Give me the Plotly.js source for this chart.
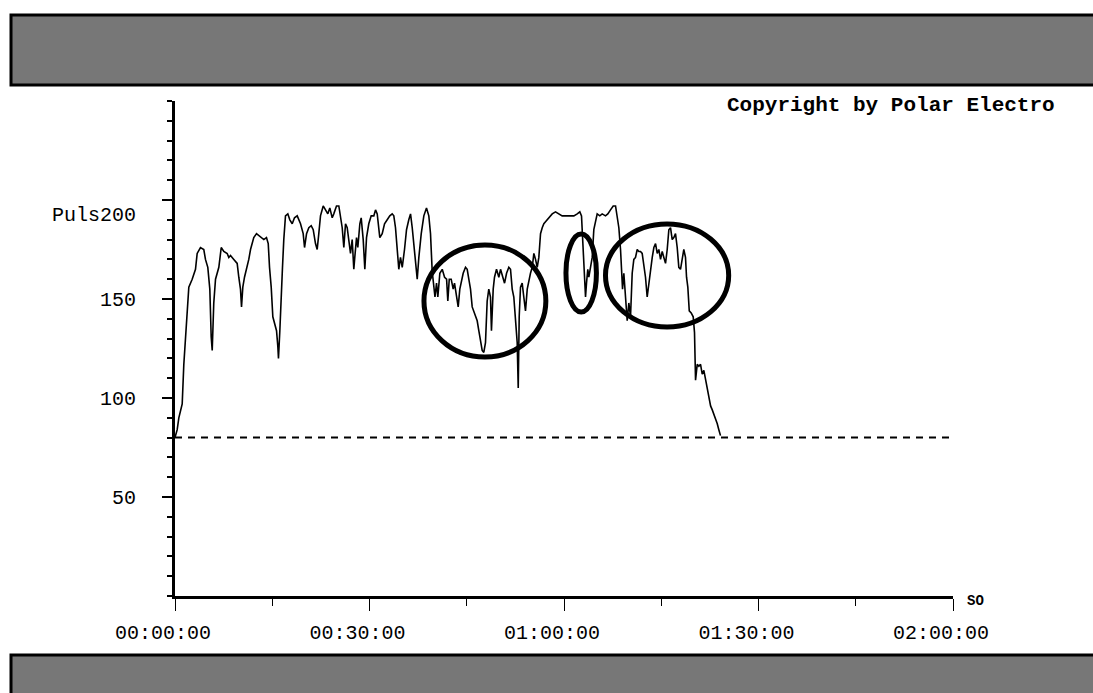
<!DOCTYPE html>
<html>
<head>
<meta charset="utf-8">
<script src="https://cdn.plot.ly/plotly-3.0.1.min.js"></script>
<style>
  html, body { margin: 0; padding: 0; background: #ffffff; overflow: hidden; }
  #chart { width: 1093px; height: 693px; }
</style>
</head>
<body>
<div id="chart"></div>
<script>
// ---- data ----
// elapsed time in minutes
const timeMin = [
  0, 0.34, 0.59, 1.11, 1.36, 1.62, 1.88, 2.13, 2.65, 3.16, 3.42, 3.93, 4.44, 4.70, 5.06, 5.37, 5.58, 5.74, 5.98, 6.25,
  6.76, 7.13, 7.53, 8.05, 8.30, 8.56, 9.07, 9.59, 9.84, 10.10, 10.26, 10.46, 10.72, 11.03, 11.38, 11.65, 12.15, 12.57, 12.93, 13.30,
  13.70, 14.11, 14.38, 14.58, 14.84, 15.09, 15.35, 15.66, 15.86, 15.96, 16.17, 16.38, 16.58, 16.78, 17.04, 17.40, 17.71, 18.08, 18.43, 18.85,
  19.36, 19.77, 19.98, 20.29, 20.64, 21.01, 21.32, 21.67, 21.93, 22.18, 22.44, 22.86, 23.21, 23.57, 23.88, 24.25, 24.49, 24.91, 25.27, 25.53,
  25.79, 26.04, 26.30, 26.56, 26.81, 27.07, 27.33, 27.58, 27.73, 28.00, 28.20, 28.51, 28.72, 29.03, 29.28, 29.54, 29.89, 30.26, 30.67, 30.93,
  31.19, 31.59, 31.96, 32.32, 32.73, 33.13, 33.50, 33.75, 34.01, 34.27, 34.52, 34.78, 35.05, 35.40, 35.71, 36.06, 36.33, 36.59, 36.83, 37.10,
  37.36, 37.61, 37.98, 38.38, 38.79, 39.15, 39.41, 39.67, 39.92, 40.10, 40.34, 40.54, 40.85, 41.22, 41.58, 41.89, 42.08, 42.30, 42.60, 42.91,
  43.11, 43.42, 43.68, 43.93, 44.19, 44.45, 44.81, 45.07, 45.32, 45.58, 45.84, 46.20, 46.61, 46.86, 47.12, 47.38, 47.63, 47.89, 48.15, 48.40,
  48.66, 48.81, 49.08, 49.28, 49.59, 49.95, 50.21, 50.63, 50.83, 51.14, 51.49, 51.75, 52.01, 52.26, 52.52, 52.78, 52.94, 53.09, 53.29, 53.55,
  53.80, 54.06, 54.33, 54.57, 54.83, 55.10, 55.35, 55.61, 55.87, 56.12, 56.38, 56.64, 56.89, 57.15, 57.41, 57.81, 58.18, 58.69, 59.20, 59.72,
  60.23, 60.74, 61.52, 62.04, 62.44, 62.70, 62.86, 63.06, 63.21, 63.32, 63.47, 63.67, 63.83, 64.09, 64.35, 64.60, 64.86, 65.12, 65.52, 65.89,
  66.40, 66.76, 67.17, 67.59, 67.95, 68.21, 68.46, 68.72, 68.87, 69.03, 69.23, 69.38, 69.54, 69.75, 70.00, 70.26, 70.52, 70.77, 71.03, 71.29,
  71.54, 71.80, 72.06, 72.31, 72.57, 72.83, 73.08, 73.35, 73.61, 73.86, 74.12, 74.38, 74.63, 74.89, 75.15, 75.40, 75.66, 75.92, 76.17, 76.43,
  76.69, 76.94, 77.20, 77.46, 77.71, 77.97, 78.24, 78.48, 78.74, 78.90, 79.10, 79.32, 79.62, 79.93, 80.13, 80.29, 80.55, 80.80, 81.06, 81.32,
  81.57, 81.83, 82.10, 82.35, 82.61, 82.87, 83.12, 83.38, 83.64, 83.88, 84.14
];
// heart rate (bpm)
const pulse = [
  80, 84, 90, 97, 117, 129, 144, 156, 160, 165, 173, 176, 175, 170, 166, 155, 131, 124, 148, 160,
  166, 176, 174, 173, 171, 172, 170, 168, 161, 155, 146, 156, 161, 165, 170, 175, 181, 183, 182, 181,
  180, 181, 178, 166, 156, 141, 138, 134, 126, 120, 134, 155, 166, 180, 192, 193, 190, 188, 191, 192,
  188, 183, 176, 183, 186, 187, 185, 178, 175, 183, 192, 197, 195, 193, 196, 191, 193, 197, 197, 190,
  186, 176, 188, 186, 180, 173, 180, 165, 171, 181, 176, 188, 191, 180, 165, 181, 188, 192, 192, 195,
  193, 181, 183, 188, 190, 192, 193, 192, 186, 176, 165, 171, 166, 175, 185, 190, 193, 186, 178, 166,
  160, 171, 183, 192, 196, 192, 183, 164, 156, 151, 158, 151, 163, 165, 161, 160, 149, 160, 160, 155,
  158, 151, 146, 155, 160, 163, 166, 165, 160, 155, 146, 143, 139, 134, 129, 124, 123, 128, 149, 155,
  151, 134, 155, 161, 165, 161, 165, 161, 158, 163, 166, 165, 155, 151, 141, 128, 105, 141, 156, 158,
  151, 144, 155, 160, 163, 166, 173, 170, 166, 171, 183, 186, 188, 189, 190, 192, 193, 194, 193, 192,
  192, 192, 192, 193, 194, 192, 183, 171, 160, 151, 158, 165, 161, 166, 171, 185, 190, 193, 192, 193,
  192, 193, 195, 197, 197, 192, 186, 175, 165, 155, 163, 155, 146, 139, 148, 141, 163, 170, 171, 175,
  174, 174, 173, 168, 161, 151, 158, 165, 171, 176, 178, 173, 175, 170, 174, 171, 168, 175, 185, 186,
  180, 181, 183, 176, 166, 165, 171, 175, 171, 161, 156, 144, 143, 141, 133, 109, 117, 116, 117, 112,
  114, 109, 104, 99, 96, 94, 92, 89, 87, 84, 81
];
const xTickVals = [0, 30, 60, 90, 120];
const xTickLabels = ['00:00:00', '00:30:00', '01:00:00', '01:30:00', '02:00:00'];
const yTickVals = [50, 100, 150, 200];
const yTickLabels = ['50', '100', '150', 'Puls200'];
const restingPulse = 80;
const copyrightText = 'Copyright by Polar Electro';
const xUnitText = 'SO';

// ---- layout geometry (pixels) ----
const W = 1093, H = 693;
const M = { l: 175, r: 140, t: 101, b: 97 };
const plotW = W - M.l - M.r, plotH = H - M.t - M.b;
const pxX = px => (px - M.l) / plotW;
const pxY = py => (H - M.b - py) / plotH;

const mono = 'Liberation Mono, DejaVu Sans Mono, monospace';

// grey band: filled rect + open border (top, left, bottom) so the right side runs off the page
function band(x0, x1, yTop, yBot, drawBottom) {
  const L = pxX(x0), R = pxX(x1), T = pxY(yTop), B = pxY(yBot);
  const out = [
    { type: 'rect', xref: 'paper', yref: 'paper', x0: L, x1: R, y0: B, y1: T,
      fillcolor: '#777777', line: { width: 0 }, layer: 'above' }
  ];
  const p = drawBottom
    ? `M ${R},${T} L ${L},${T} L ${L},${B} L ${R},${B}`
    : `M ${R},${T} L ${L},${T} L ${L},${B}`;
  out.push({ type: 'path', xref: 'paper', yref: 'paper', path: p,
    fillcolor: 'rgba(0,0,0,0)', line: { color: '#000000', width: 3 }, layer: 'above' });
  return out;
}

const trace = {
  x: timeMin, y: pulse, type: 'scatter', mode: 'lines',
  line: { color: '#000000', width: 1.6 }, hoverinfo: 'skip'
};

const layout = {
  width: W, height: H,
  margin: M,
  paper_bgcolor: '#ffffff', plot_bgcolor: '#ffffff',
  showlegend: false,
  font: { family: mono, color: '#000000', size: 20 },
  xaxis: {
    range: [0, 120], showgrid: false, zeroline: false,
    showline: true, linecolor: '#000000', linewidth: 3,
    tickmode: 'array', tickvals: xTickVals, ticktext: xTickLabels,
    ticks: 'outside', ticklen: 12, tickwidth: 1, tickcolor: '#000000',
    ticklabelshift: -12, ticklabelstandoff: 4,
    tickfont: { family: mono, size: 20, color: '#000000' },
    minor: { tickmode: 'linear', tick0: 0, dtick: 15, ticks: 'outside', ticklen: 7, tickwidth: 1, tickcolor: '#000000', showgrid: false },
    fixedrange: true
  },
  yaxis: {
    range: [0, 250], showgrid: false, zeroline: false,
    showline: true, linecolor: '#000000', linewidth: 3,
    tickmode: 'array', tickvals: yTickVals, ticktext: [yTickLabels[0], yTickLabels[1], yTickLabels[2], ''],
    ticks: 'outside', ticklen: 10, tickwidth: 2, tickcolor: '#000000',
    ticklabelstandoff: 22,
    tickfont: { family: mono, size: 20, color: '#000000' },
    minor: { tickmode: 'linear', tick0: 0, dtick: 10, ticks: 'outside', ticklen: 5, tickwidth: 2, tickcolor: '#000000', showgrid: false },
    fixedrange: true
  },
  shapes: [
    ...band(11, 1120, 15, 85, true),
    ...band(11, 1120, 655, 720, false),
    // resting pulse dashed line
    { type: 'line', xref: 'x', yref: 'y', x0: 0, x1: 120.3, y0: restingPulse, y1: restingPulse,
      line: { color: '#000000', width: 2, dash: '7px,6px' }, layer: 'below' },
    // highlight ellipses
    { type: 'circle', xref: 'x', yref: 'y', x0: 38.4, x1: 57.2, y0: 120.7, y1: 177.3,
      line: { color: '#000000', width: 5 } },
    { type: 'circle', xref: 'x', yref: 'y', x0: 60.3, x1: 65.0, y0: 143.4, y1: 182.8,
      line: { color: '#000000', width: 5 } },
    { type: 'circle', xref: 'x', yref: 'y', x0: 66.4, x1: 85.4, y0: 135.9, y1: 187.9,
      line: { color: '#000000', width: 5 } }
  ],
  annotations: [
    { text: yTickLabels[3], xref: 'paper', yref: 'paper', x: pxX(138), y: pxY(215),
      xanchor: 'right', yanchor: 'middle', showarrow: false,
      font: { family: mono, size: 20, color: '#000000' } },
    { text: copyrightText, xref: 'paper', yref: 'paper', x: pxX(1057), y: pxY(105),
      xanchor: 'right', yanchor: 'middle', showarrow: false,
      font: { family: mono, size: 21, color: '#000000', weight: 'bold' } },
    { text: xUnitText, xref: 'paper', yref: 'paper', x: pxX(965), y: pxY(601),
      xanchor: 'left', yanchor: 'middle', showarrow: false,
      font: { family: mono, size: 14, color: '#000000', weight: 'bold' } }
  ]
};

Plotly.newPlot('chart', [trace], layout, { staticPlot: true, displayModeBar: false });
</script>
</body>
</html>
